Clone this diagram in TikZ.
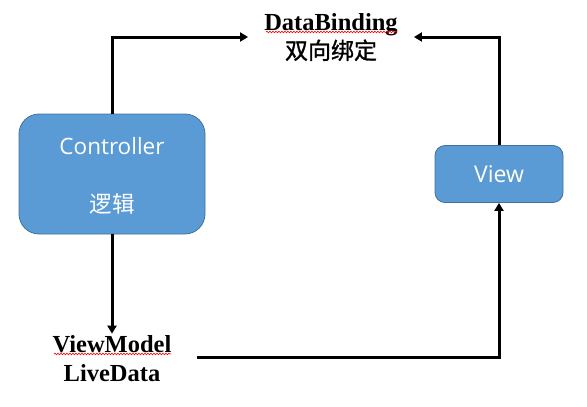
\documentclass[tikz,border=0pt]{standalone}
\usepackage{fontspec}
\setmainfont{Liberation Serif}
\newfontfamily\cjk{Noto Sans CJK SC}
\newfontfamily\cjkb[FakeBold=1.2]{Noto Sans CJK SC}
\newfontfamily\boxfont{Open Sans}
\usetikzlibrary{arrows.meta,decorations.pathmorphing}
\definecolor{boxblue}{HTML}{5B9BD5}
\definecolor{boxedge}{HTML}{41719C}
\begin{document}
\begin{tikzpicture}[x=1pt,y=-1pt,
  bluebox/.style={draw=boxedge,line width=0.8pt,fill=boxblue,text=white,align=center,inner sep=0pt},
  lbl/.style={align=center,font=\fontsize{24.5}{29}\selectfont\bfseries,inner ysep=0pt},
  arr/.style={line width=3pt,-{Triangle[width=9pt,length=8pt]}},
  squig/.style={red,line width=0.6pt,decorate,decoration={snake,amplitude=0.8pt,segment length=3pt}}]
\useasboundingbox (0,0) rectangle (587,407);
\node[bluebox,rounded corners=20pt,minimum width=186pt,minimum height=120pt] (ctrl) at (112,174) {};
\node[text=white,font=\boxfont\fontsize{22.5}{26}\selectfont] (ctrlA) at (112,146) {Controller};
\node[text=white,font=\cjk\fontsize{22.5}{26}\selectfont] (ctrlB) at (112,204) {逻辑};
\node[bluebox,rounded corners=10pt,minimum width=128pt,minimum height=57pt,font=\boxfont\fontsize{23}{26}\selectfont] (view) at (499,174) {View};
\node[lbl,inner xsep=16pt] (db) at (331,37) {DataBinding\\{\cjkb\mdseries\fontsize{23}{29}\selectfont 双向绑定}};
\node[lbl,inner xsep=25pt] (vm) at (112,359) {ViewModel\\LiveData};
\draw[arr] (ctrl.north) |- (db.west);
\draw[arr] (view.north) |- (db.east);
\draw[arr,shorten >=2pt] (ctrl.south) -- (vm.north);
\draw[arr] (vm.east |- 0,357) -| (view.south);
\draw[squig] (266,32) -- (397,32);
\draw[squig] (54,354) -- (171,354);
\end{tikzpicture}
\end{document}
